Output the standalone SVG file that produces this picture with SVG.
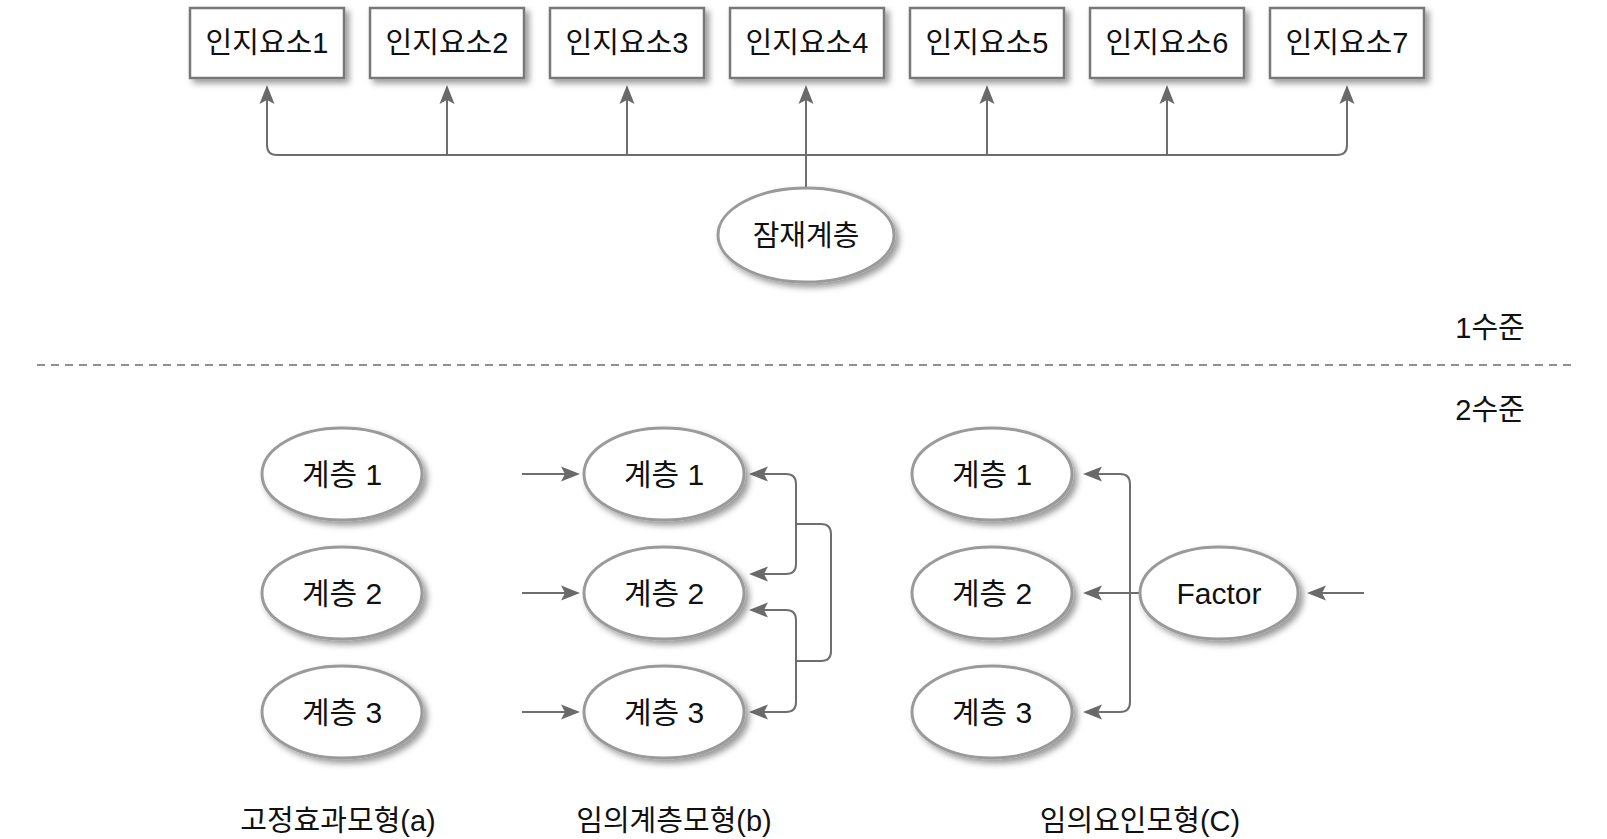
<svg xmlns="http://www.w3.org/2000/svg" width="1607" height="839" viewBox="0 0 1607 839">
<style>
.t{font-family:"Liberation Sans","Noto Sans CJK KR",sans-serif;font-size:29px;fill:#111;text-anchor:middle}
.n{font-size:30px}
.box{fill:#fff;stroke:#787878;stroke-width:2.5;filter:url(#sh)}
.ell{fill:#fff;stroke:#9a9a9a;stroke-width:3;filter:url(#sh)}
.c{fill:none;stroke:#6e6e6e;stroke-width:2}
.a{marker-end:url(#ah)}
</style>
<defs>
<filter id="sh" x="-20%" y="-20%" width="150%" height="160%">
<feDropShadow dx="4" dy="4" stdDeviation="3" flood-color="#000" flood-opacity="0.4"/>
</filter>
<marker id="ah" markerUnits="userSpaceOnUse" viewBox="-20 -9 28 18" refX="-6" refY="0" markerWidth="28" markerHeight="18" orient="auto">
<path d="M0,0 L-19,-7.5 L-15,0 L-19,7.5 Z" fill="#6a6a6a"/>
</marker>
</defs>
<rect width="1607" height="839" fill="#fff"/>

<g id="connectors">
<path class="c a" d="M806,155 H277 Q267,155 267,145 V91"/>
<path class="c a" d="M806,155 H1337 Q1347,155 1347,145 V91"/>
<path class="c a" d="M447,155 V91"/>
<path class="c a" d="M627,155 V91"/>
<path class="c a" d="M806,188 V91"/>
<path class="c a" d="M987,155 V91"/>
<path class="c a" d="M1167,155 V91"/>

<path class="c a" d="M522,474 H574"/>
<path class="c a" d="M522,593 H574"/>
<path class="c a" d="M522,712 H574"/>
<path class="c a" d="M796,524 V484 Q796,474 786,474 H755"/>
<path class="c a" d="M796,524 V564 Q796,574 786,574 H755"/>
<path class="c a" d="M796,661 V620 Q796,610 786,610 H755"/>
<path class="c a" d="M796,661 V702 Q796,712 786,712 H755"/>
<path class="c" d="M796,524 H821 Q831,524 831,534 V651 Q831,661 821,661 H796"/>

<path class="c a" d="M1140,593 H1089"/>
<path class="c a" d="M1130,593 V484 Q1130,474 1120,474 H1089"/>
<path class="c a" d="M1130,593 V702 Q1130,712 1120,712 H1089"/>
<path class="c a" d="M1364,593 H1313"/>
</g>

<g id="box1"><rect class="box" x="190" y="8" width="154" height="70"/><text class="t" x="267" y="53">인지요소1</text></g>
<g id="box2"><rect class="box" x="370" y="8" width="154" height="70"/><text class="t" x="447" y="53">인지요소2</text></g>
<g id="box3"><rect class="box" x="550" y="8" width="154" height="70"/><text class="t" x="627" y="53">인지요소3</text></g>
<g id="box4"><rect class="box" x="730" y="8" width="154" height="70"/><text class="t" x="807" y="53">인지요소4</text></g>
<g id="box5"><rect class="box" x="910" y="8" width="154" height="70"/><text class="t" x="987" y="53">인지요소5</text></g>
<g id="box6"><rect class="box" x="1090" y="8" width="154" height="70"/><text class="t" x="1167" y="53">인지요소6</text></g>
<g id="box7"><rect class="box" x="1270" y="8" width="154" height="70"/><text class="t" x="1347" y="53">인지요소7</text></g>

<g id="latent"><ellipse class="ell" cx="806" cy="235" rx="88" ry="47"/><text class="t" x="806" y="246">잠재계층</text></g>

<g id="levels">
<text class="t" x="1490" y="338">1수준</text>
<line x1="37" y1="365" x2="1573" y2="365" stroke="#6e6e6e" stroke-width="1.5" stroke-dasharray="8 6"/>
<text class="t" x="1490" y="420">2수준</text>
</g>

<g id="a1"><ellipse class="ell" cx="342" cy="474" rx="80" ry="46"/><text class="t n" x="342" y="485">계층 1</text></g>
<g id="a2"><ellipse class="ell" cx="342" cy="593" rx="80" ry="46"/><text class="t n" x="342" y="604">계층 2</text></g>
<g id="a3"><ellipse class="ell" cx="342" cy="712" rx="80" ry="46"/><text class="t n" x="342" y="723">계층 3</text></g>

<g id="b1"><ellipse class="ell" cx="664" cy="474" rx="80" ry="46"/><text class="t n" x="664" y="485">계층 1</text></g>
<g id="b2"><ellipse class="ell" cx="664" cy="593" rx="80" ry="46"/><text class="t n" x="664" y="604">계층 2</text></g>
<g id="b3"><ellipse class="ell" cx="664" cy="712" rx="80" ry="46"/><text class="t n" x="664" y="723">계층 3</text></g>

<g id="c1"><ellipse class="ell" cx="992" cy="474" rx="80" ry="46"/><text class="t n" x="992" y="485">계층 1</text></g>
<g id="c2"><ellipse class="ell" cx="992" cy="593" rx="80" ry="46"/><text class="t n" x="992" y="604">계층 2</text></g>
<g id="c3"><ellipse class="ell" cx="992" cy="712" rx="80" ry="46"/><text class="t n" x="992" y="723">계층 3</text></g>

<g id="factor"><ellipse class="ell" cx="1219" cy="593" rx="79" ry="46"/><text class="t n" x="1219" y="604">Factor</text></g>

<g id="captions">
<text class="t" x="338" y="831">고정효과모형(a)</text>
<text class="t" x="674" y="831">임의계층모형(b)</text>
<text class="t" x="1140" y="831">임의요인모형(C)</text>
</g>
</svg>
